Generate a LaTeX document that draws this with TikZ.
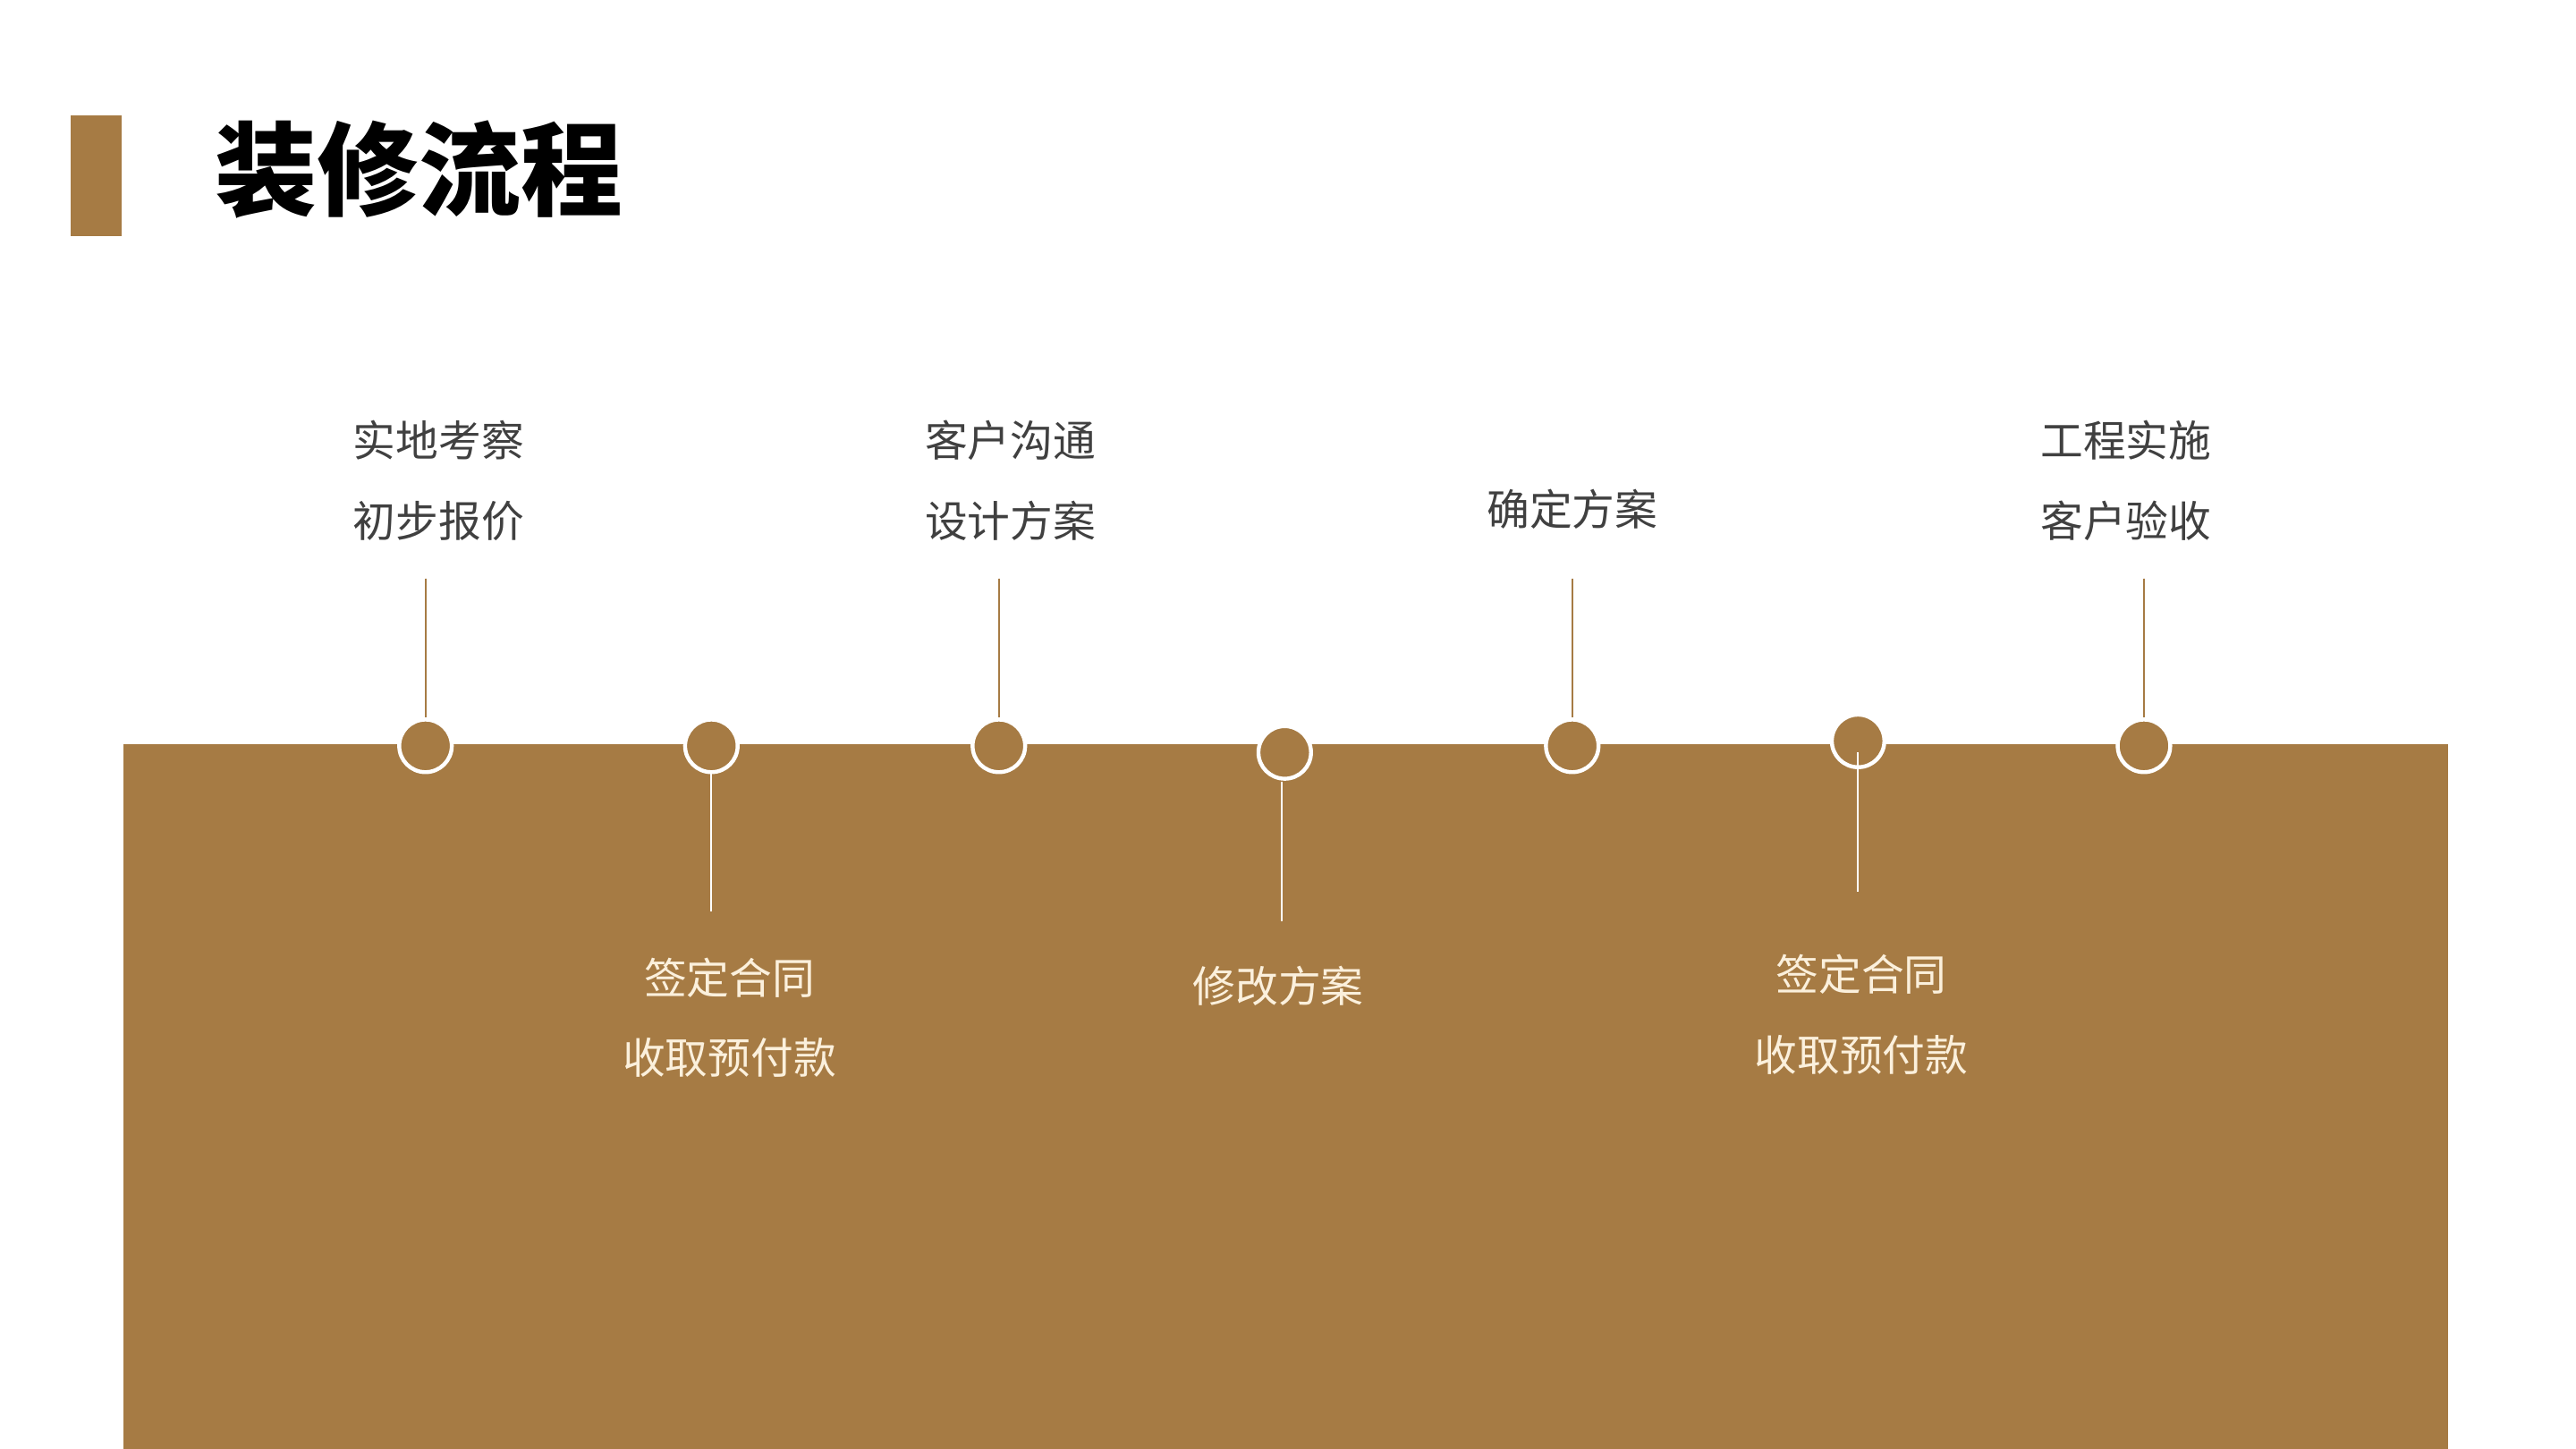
\documentclass[tikz,border=0pt]{standalone}
\usepackage{fontspec}
\newfontfamily\cjk{Noto Sans CJK SC}
\newfontfamily\cjkb{Noto Sans CJK SC Black}
\definecolor{brn}{HTML}{A67B44}
\definecolor{txt}{HTML}{404040}
\definecolor{crm}{HTML}{FBF0DC}
\begin{document}
\begin{tikzpicture}[x=0.5pt,y=-0.5pt,
  dot/.style={circle,draw=white,line width=1.2pt,fill=brn,minimum size=16pt,inner sep=0},
  up/.style={font=\cjk\fontsize{13}{15}\selectfont,text=txt,align=center},
  dn/.style={font=\cjk\fontsize{13}{15}\selectfont,text=crm,align=center},
  ln/.style={draw=brn,line width=0.5pt},
  wl/.style={draw=white,line width=0.5pt}]
\useasboundingbox (0,0) rectangle (1568,882);
\fill[brn] (43,70) rectangle (74,144);
\node[anchor=west,font=\cjkb\fontsize{31}{34}\selectfont] (title) at (124,103) {装修流程};
\fill[brn] (75,453) rectangle (1490,882);
\foreach \n/\x/\y in {a/259/454,b/433/454,c/608/454,d/782/458,e/957/454,f/1131/451,g/1305/454}
  \node[dot] (\n) at (\x,\y) {};
\coordinate (ta) at (259,352); \coordinate (tc) at (608,352);
\coordinate (te) at (957,352); \coordinate (tg) at (1305,352);
\foreach \n in {a,c,e,g} \draw[ln] (t\n) -- (\n.north);
\coordinate (bb) at (433,555); \coordinate (bd) at (780,561); \coordinate (bf) at (1131,543);
\draw[wl] (b.south) -- (bb);
\draw[wl] (780,476) -- (bd);
\draw[wl] (1131,458) -- (bf);
\node[up] (la1) at (267,268) {实地考察}; \node[up] (la2) at (267,317) {初步报价};
\node[up] (lc1) at (615,268) {客户沟通}; \node[up] (lc2) at (615,317) {设计方案};
\node[up] (le) at (957,310) {确定方案};
\node[up] (lg1) at (1294,268) {工程实施}; \node[up] (lg2) at (1294,317) {客户验收};
\node[dn] (lb1) at (444,595) {签定合同}; \node[dn] (lb2) at (444,644) {收取预付款};
\node[dn] (ld) at (778,600) {修改方案};
\node[dn] (lf1) at (1133,593) {签定合同}; \node[dn] (lf2) at (1133,642) {收取预付款};
\end{tikzpicture}
\end{document}
